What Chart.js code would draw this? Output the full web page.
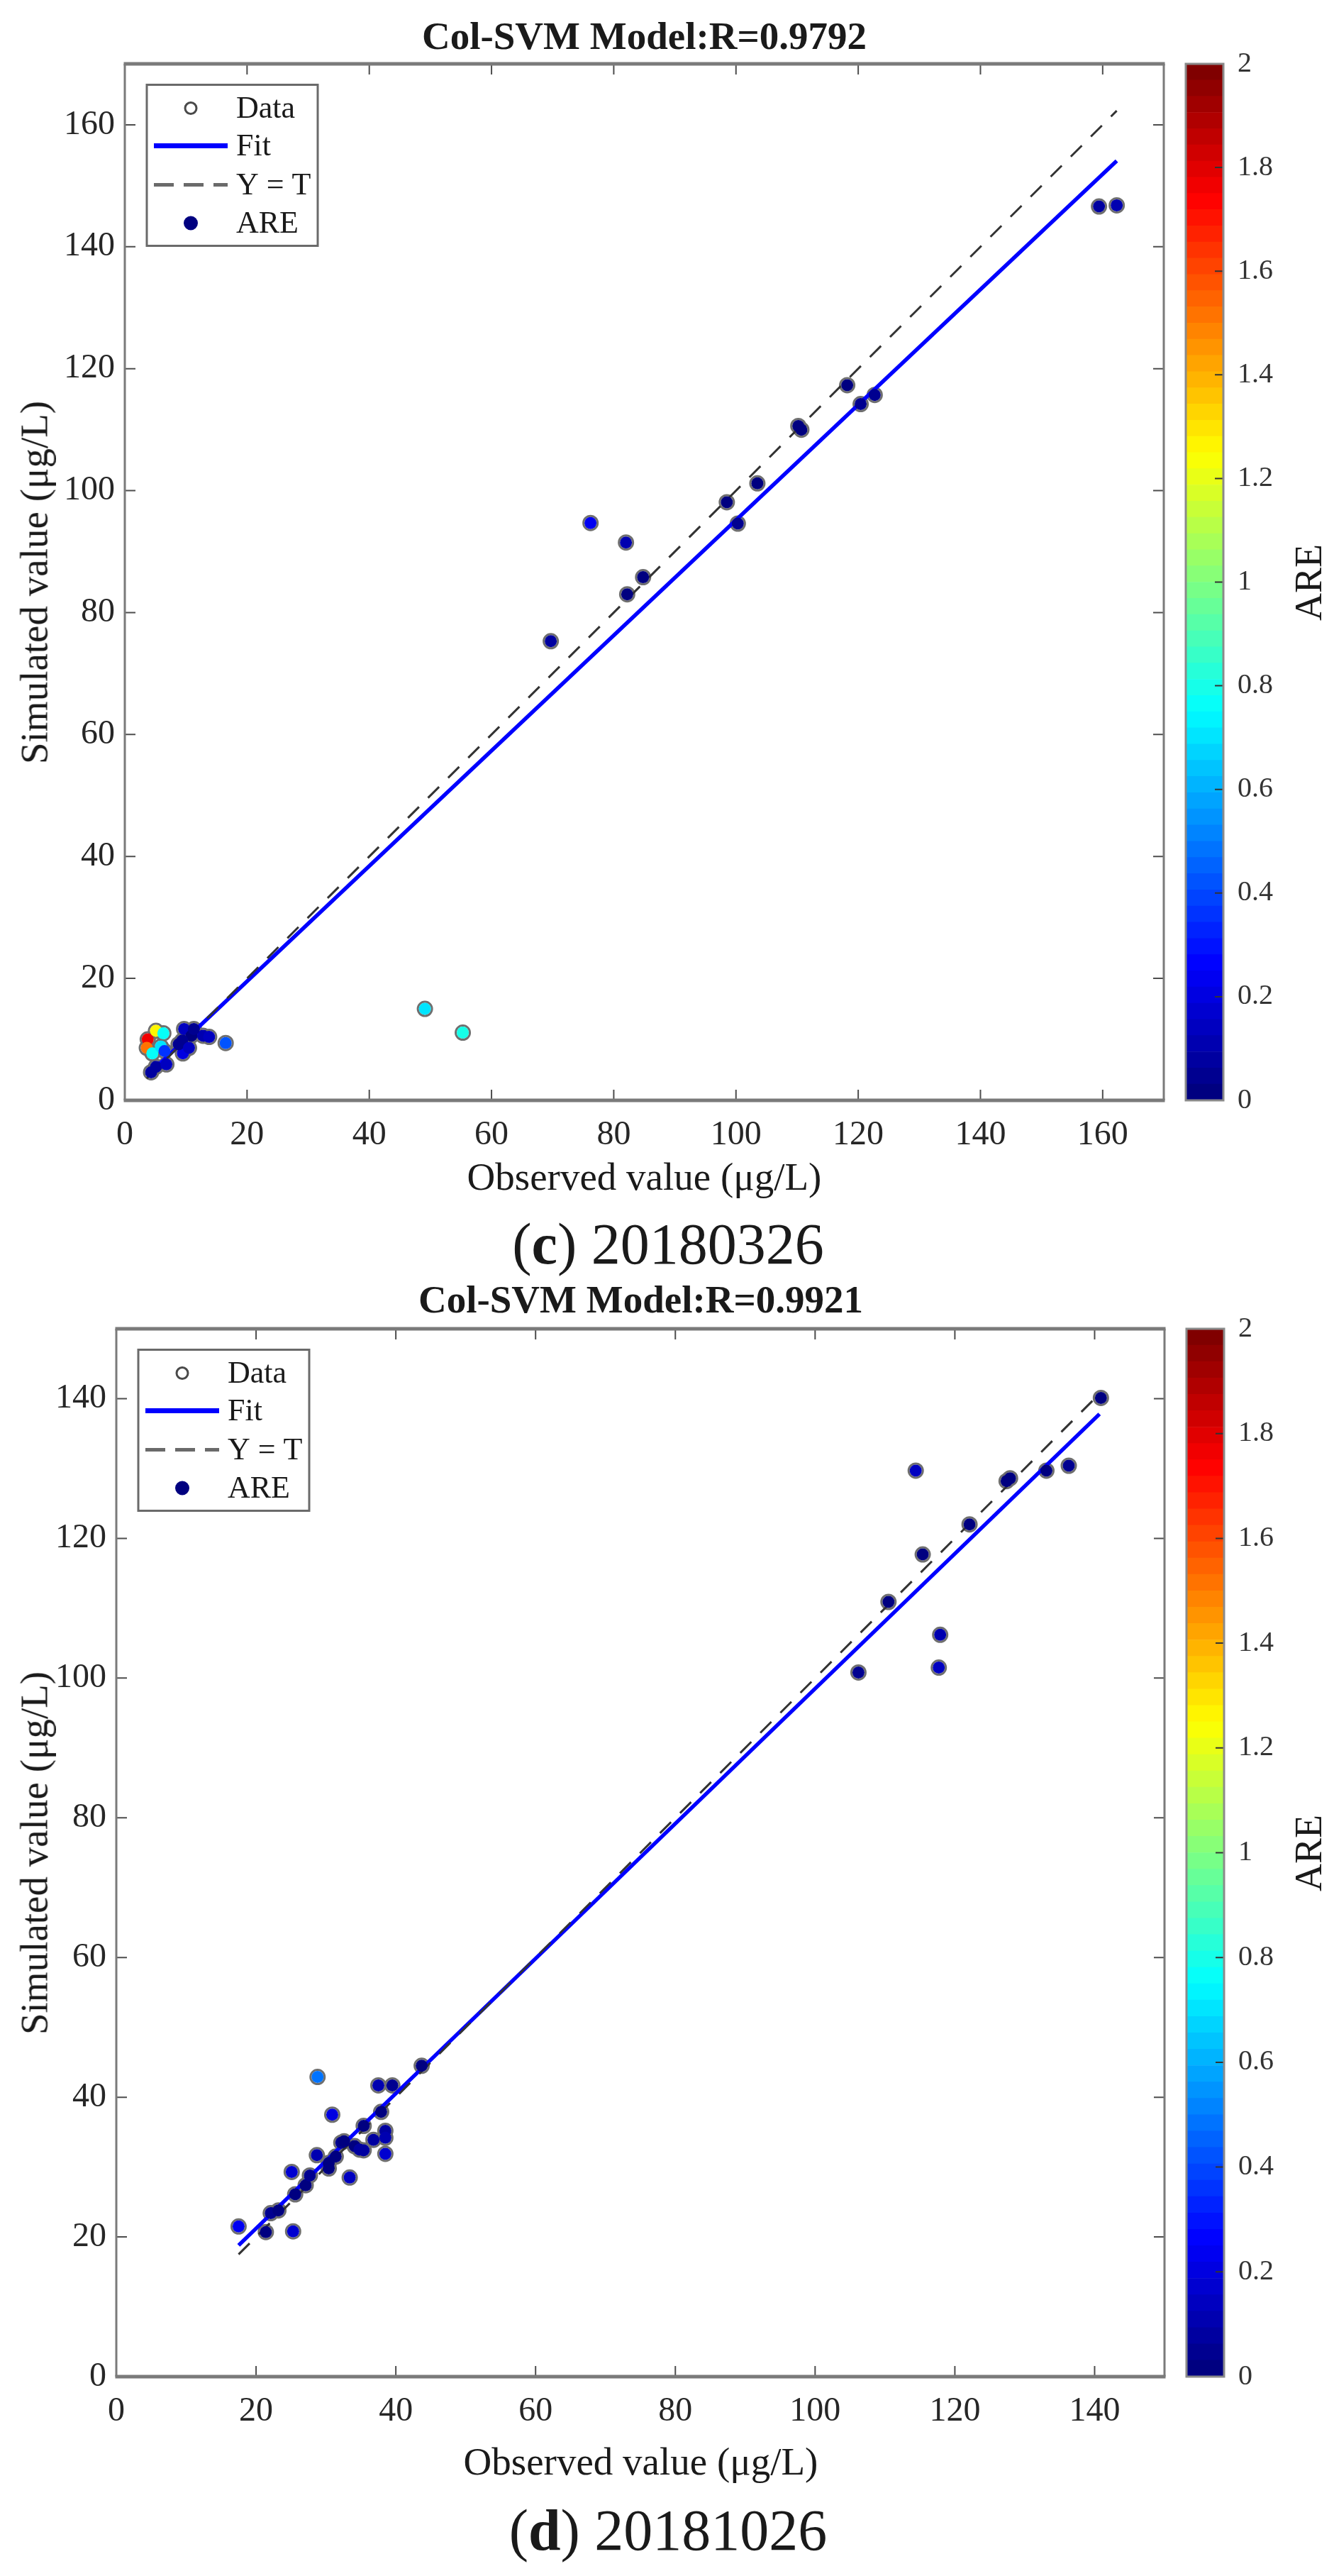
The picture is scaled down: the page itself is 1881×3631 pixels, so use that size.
<!DOCTYPE html>
<html>
<head>
<meta charset="utf-8">
<script src="https://cdn.jsdelivr.net/npm/chart.js@4.4.0/dist/chart.umd.min.js"></script>
<style>
html,body{margin:0;padding:0;background:#ffffff;}
body{width:1881px;height:3631px;position:relative;overflow:hidden;font-family:"Liberation Serif","Times New Roman",serif;}
canvas{position:absolute;}
.t{position:absolute;white-space:nowrap;line-height:1;color:#1a1a1a;}
</style>
</head>
<body>
<script>
// ---------------- DATA ----------------
// Panel (c) 20180326
const titleC = 'Col-SVM Model:R=0.9792';
const captionC = ['c', ' 20180326'];
const xTicksC = [0, 20, 40, 60, 80, 100, 120, 140, 160];
const yTicksC = [0, 20, 40, 60, 80, 100, 120, 140, 160];
const obsC = [3.75, 3.6, 5.1, 6.3, 4.5, 5.9, 6.5, 5.1, 6.8, 4.3, 9.7, 10.9, 9.4, 12.8, 13.8, 9.5, 8.8, 11.3, 10.5, 16.5,
              49.1, 55.3, 69.7, 76.2, 82.0, 82.2, 84.8, 98.5, 100.3, 103.5, 110.2, 110.7, 118.2, 120.4, 122.7, 159.4, 162.3];
const simC = [10.0, 8.6, 11.4, 11.0, 7.7, 8.8, 8.1, 5.5, 5.9, 4.6, 11.7, 10.6, 9.8, 10.6, 10.4, 7.7, 9.2, 11.7, 8.6, 9.4,
              15.0, 11.1, 75.3, 94.7, 91.5, 83.0, 85.8, 98.1, 94.6, 101.2, 110.6, 110.0, 117.3, 114.2, 115.7, 146.6, 146.8];
const areC = [1.75, 1.5, 1.25, 0.75, 0.75, 0.7, 0.35, 0.08, 0.13, 0.07, 0.15, 0.03, 0.04, 0.12, 0.15, 0.19, 0.04, 0.04, 0.15, 0.43,
              0.69, 0.80, 0.08, 0.24, 0.12, 0.01, 0.01, 0.004, 0.06, 0.02, 0.004, 0.006, 0.01, 0.05, 0.06, 0.08, 0.095];
const fitXC = [3.6, 162.3];
const fitYC = [4.0, 154.1];
const refXC = [3.6, 162.3];

// Panel (d) 20181026
const titleD = 'Col-SVM Model:R=0.9921';
const captionD = ['d', ' 20181026'];
const xTicksD = [0, 20, 40, 60, 80, 100, 120, 140];
const yTicksD = [0, 20, 40, 60, 80, 100, 120, 140];
const obsD = [17.5, 21.4, 22.1, 23.2, 25.3, 25.1, 25.6, 27.1, 27.7, 28.7, 28.8, 30.4, 30.4, 30.9, 31.4, 32.2, 32.6, 33.4, 34.1, 34.8,
              35.4, 35.4, 36.8, 37.5, 37.9, 38.5, 38.5, 38.5, 39.5, 43.7, 106.2, 110.5, 114.4, 115.4, 117.7, 117.9, 122.1, 127.4, 127.9, 133.1,
              136.3, 140.9];
const simD = [21.5, 20.7, 23.4, 23.8, 20.8, 29.3, 26.1, 27.4, 28.8, 31.7, 42.9, 29.8, 30.6, 37.5, 31.5, 33.5, 33.7, 28.5, 33.0, 32.5,
              35.9, 32.4, 33.9, 41.7, 37.9, 35.2, 34.2, 31.9, 41.7, 44.5, 100.8, 110.9, 129.7, 117.7, 101.5, 106.2, 122.0, 128.2, 128.6, 129.7,
              130.4, 140.1];
const areD = [0.23, 0.03, 0.06, 0.03, 0.18, 0.17, 0.02, 0.01, 0.04, 0.10, 0.49, 0.02, 0.01, 0.21, 0.00, 0.04, 0.03, 0.15, 0.03, 0.07,
              0.01, 0.08, 0.08, 0.11, 0.00, 0.09, 0.11, 0.17, 0.06, 0.02, 0.05, 0.00, 0.13, 0.02, 0.14, 0.10, 0.00, 0.01, 0.01, 0.03,
              0.04, 0.01];
const fitXD = [17.5, 140.7];
const fitYD = [18.8, 137.8];
const refXD = [17.5, 140.9];

// Shared
const legendLabels = ['Data', 'Fit', 'Y = T', 'ARE'];
const cbTicks = [0, 0.2, 0.4, 0.6, 0.8, 1, 1.2, 1.4, 1.6, 1.8, 2];
const cbLabel = 'ARE';
const xTitle = 'Observed value (\u03bcg/L)';
const yTitle = 'Simulated value (\u03bcg/L)';

// ---------------- STYLE / LAYOUT ----------------
const FONT = '"Liberation Serif", "Times New Roman", serif';
const CB_LEVELS = 64;
const CB_MAX = 2;

function jet(t) {
  const c = v => Math.max(0, Math.min(1, v));
  const r = c(1.5 - Math.abs(4 * t - 3));
  const g = c(1.5 - Math.abs(4 * t - 2));
  const b = c(1.5 - Math.abs(4 * t - 1));
  return `rgb(${Math.round(r * 255)},${Math.round(g * 255)},${Math.round(b * 255)})`;
}
function areColor(v) {
  const idx = Math.min(CB_LEVELS - 1, Math.max(0, Math.floor(v / CB_MAX * CB_LEVELS)));
  return jet(idx / (CB_LEVELS - 1));
}

function addText(txt, opts) {
  const d = document.createElement('div');
  d.className = 't';
  d.style.fontSize = opts.size + 'px';
  if (opts.bold) d.style.fontWeight = 'bold';
  if (opts.html) d.innerHTML = txt; else d.textContent = txt;
  d.style.left = opts.cx + 'px';
  if (opts.rotate) {
    d.style.top = opts.cy + 'px';
    d.style.transform = 'translate(-50%,-50%) rotate(-90deg)';
  } else {
    d.style.top = (opts.baseline - 0.8375 * opts.size) + 'px';
    d.style.transform = 'translateX(-50%)';
  }
  document.body.appendChild(d);
  return d;
}

function makeCanvas(left, top, w, h) {
  const c = document.createElement('canvas');
  c.width = w; c.height = h;
  c.style.left = left + 'px'; c.style.top = top + 'px';
  c.style.width = w + 'px'; c.style.height = h + 'px';
  document.body.appendChild(c);
  return c;
}

const boxPlugin = {
  id: 'mlBox',
  afterDatasetsDraw(chart) {
    const ctx = chart.ctx, a = chart.chartArea, x = chart.scales.x, y = chart.scales.y;
    ctx.save();
    ctx.strokeStyle = '#4d4d4d';
    ctx.lineWidth = 2;
    const tl = 15;
    ctx.beginPath();
    x.ticks.forEach(t => {
      const p = x.getPixelForValue(t.value);
      ctx.moveTo(p, a.bottom); ctx.lineTo(p, a.bottom - tl);
      ctx.moveTo(p, a.top); ctx.lineTo(p, a.top + tl);
    });
    y.ticks.forEach(t => {
      const p = y.getPixelForValue(t.value);
      ctx.moveTo(a.left, p); ctx.lineTo(a.left + tl, p);
      ctx.moveTo(a.right, p); ctx.lineTo(a.right - tl, p);
    });
    ctx.stroke();
    ctx.strokeStyle = '#7a7a7a';
    ctx.lineWidth = 5;
    ctx.beginPath();
    ctx.moveTo(a.left - 1.5, a.top); ctx.lineTo(a.right + 1.5, a.top);
    ctx.moveTo(a.left - 1.5, a.bottom); ctx.lineTo(a.right + 1.5, a.bottom);
    ctx.stroke();
    ctx.lineWidth = 3;
    ctx.beginPath();
    ctx.moveTo(a.left, a.top); ctx.lineTo(a.left, a.bottom);
    ctx.moveTo(a.right, a.top); ctx.lineTo(a.right, a.bottom);
    ctx.stroke();
    ctx.restore();
  }
};

const legendPlugin = {
  id: 'mlLegend',
  afterDraw(chart) {
    const ctx = chart.ctx, a = chart.chartArea;
    const L = a.left + 31, T = a.top + 29.5, W = 241, H = 227;
    ctx.save();
    ctx.fillStyle = '#ffffff';
    ctx.fillRect(L, T, W, H);
    ctx.strokeStyle = '#6a6a6a';
    ctx.lineWidth = 3;
    ctx.strokeRect(L, T, W, H);
    const rows = [T + 33, T + 86, T + 141, T + 195];
    const sx = a.left + 93, lx0 = a.left + 41, lx1 = a.left + 145, tx = a.left + 157;
    // Data
    ctx.beginPath(); ctx.arc(sx, rows[0], 8, 0, Math.PI * 2);
    ctx.strokeStyle = '#4a4a4a'; ctx.lineWidth = 3; ctx.stroke();
    // Fit
    ctx.beginPath(); ctx.moveTo(lx0, rows[1]); ctx.lineTo(lx1, rows[1]);
    ctx.strokeStyle = '#0000ff'; ctx.lineWidth = 7; ctx.stroke();
    // Y = T
    ctx.beginPath(); ctx.setLineDash([28, 14]); ctx.moveTo(lx0, rows[2]); ctx.lineTo(lx1, rows[2]);
    ctx.strokeStyle = '#6a6a6a'; ctx.lineWidth = 5; ctx.stroke(); ctx.setLineDash([]);
    // ARE
    ctx.beginPath(); ctx.arc(sx, rows[3], 10, 0, Math.PI * 2);
    ctx.fillStyle = areColor(0); ctx.fill();
    ctx.fillStyle = '#1a1a1a';
    ctx.font = '44px ' + FONT;
    ctx.textBaseline = 'middle';
    ctx.textAlign = 'left';
    legendLabels.forEach((s, i) => ctx.fillText(s, tx, rows[i] + 2));
    ctx.restore();
  }
};

const cbPlugin = {
  id: 'mlCbar',
  afterDraw(chart) {
    const ctx = chart.ctx, a = chart.chartArea, y = chart.scales.y;
    ctx.save();
    ctx.strokeStyle = '#333333';
    ctx.lineWidth = 2;
    ctx.beginPath();
    y.ticks.forEach(t => {
      const p = y.getPixelForValue(t.value);
      ctx.moveTo(a.right, p); ctx.lineTo(a.right - 12, p);
    });
    ctx.stroke();
    ctx.strokeStyle = '#8a8a8a';
    ctx.lineWidth = 3;
    ctx.strokeRect(a.left, a.top, a.right - a.left, a.bottom - a.top);
    ctx.restore();
  }
};

function buildPanel(p) {
  // main scatter chart
  const cv = makeCanvas(p.canvas.left, p.canvas.top, p.canvas.w, p.canvas.h);
  const pts = p.obs.map((v, i) => ({ x: v, y: p.sim[i] }));
  const cols = p.are.map(areColor);
  const fitPts = p.fitX.map((v, i) => ({ x: v, y: p.fitY[i] }));
  const refPts = p.refX.map(v => ({ x: v, y: v }));
  const tickFont = { family: FONT, size: 48 };
  new Chart(cv.getContext('2d'), {
    type: 'scatter',
    data: {
      datasets: [
        { label: 'ARE', data: pts, pointRadius: 8.5, pointHoverRadius: 8.5, pointBackgroundColor: cols, pointBorderWidth: 0, order: 0 },
        { type: 'line', label: 'Y = T', data: refPts, showLine: true, borderColor: '#333333', borderWidth: 3, borderDash: [22, 18], pointRadius: 0, fill: false, order: 1 },
        { type: 'line', label: 'Fit', data: fitPts, showLine: true, borderColor: '#0000ff', borderWidth: 5.5, pointRadius: 0, fill: false, order: 2 },
        { label: 'Data', data: pts, pointRadius: 10, pointHoverRadius: 10, pointBackgroundColor: 'rgba(0,0,0,0)', pointBorderColor: '#6f6f6f', pointBorderWidth: 3, order: 3 }
      ]
    },
    options: {
      responsive: false, animation: false, devicePixelRatio: 1,
      events: [],
      layout: { padding: { left: 0, top: p.plot.top - p.canvas.top, right: p.canvas.left + p.canvas.w - p.plot.right, bottom: 0 } },
      plugins: { legend: { display: false }, tooltip: { enabled: false }, title: { display: false } },
      scales: {
        x: {
          type: 'linear', min: 0, max: p.max,
          afterBuildTicks: s => { s.ticks = p.xTicks.map(v => ({ value: v })); },
          afterFit: s => { s.height = p.canvas.top + p.canvas.h - p.plot.bottom; },
          grid: { display: false, drawTicks: false },
          border: { display: false },
          ticks: { font: tickFont, color: '#262626', padding: 21, maxRotation: 0, minRotation: 0, autoSkip: false }
        },
        y: {
          type: 'linear', min: 0, max: p.max,
          afterBuildTicks: s => { s.ticks = p.yTicks.map(v => ({ value: v })); },
          afterFit: s => { s.width = p.plot.left - p.canvas.left; },
          grid: { display: false, drawTicks: false },
          border: { display: false },
          ticks: { font: tickFont, color: '#262626', padding: 14, autoSkip: false }
        }
      }
    },
    plugins: [boxPlugin, legendPlugin]
  });

  // colorbar chart
  const cbc = p.cbar;
  const cbv = makeCanvas(cbc.canvasLeft, p.canvas.top, 1881 - cbc.canvasLeft, p.canvas.h);
  const dsets = [];
  for (let i = 0; i < CB_LEVELS; i++) {
    dsets.push({ data: [CB_MAX / CB_LEVELS], backgroundColor: jet(i / (CB_LEVELS - 1)), borderWidth: 0, barPercentage: 1, categoryPercentage: 1 });
  }
  new Chart(cbv.getContext('2d'), {
    type: 'bar',
    data: { labels: [''], datasets: dsets },
    options: {
      responsive: false, animation: false, devicePixelRatio: 1,
      events: [],
      layout: { padding: { left: cbc.left - cbc.canvasLeft, top: p.plot.top - p.canvas.top, right: 0, bottom: p.canvas.top + p.canvas.h - p.plot.bottom } },
      plugins: { legend: { display: false }, tooltip: { enabled: false } },
      scales: {
        x: { stacked: true, display: false },
        y: {
          stacked: true, position: 'right', min: 0, max: CB_MAX,
          afterBuildTicks: s => { s.ticks = cbTicks.map(v => ({ value: v })); },
          afterFit: s => { s.width = 1881 - cbc.right; },
          grid: { display: false, drawTicks: false },
          border: { display: false },
          ticks: { font: { family: FONT, size: 40 }, color: '#333333', padding: 20, autoSkip: false,
                   callback: v => String(Math.round(v * 10) / 10) }
        }
      }
    },
    plugins: [cbPlugin]
  });

  // texts
  const pcx = (p.plot.left + p.plot.right) / 2;
  const pcy = (p.plot.top + p.plot.bottom) / 2;
  addText(p.title, { size: 55, bold: true, cx: pcx, baseline: p.titleBase });
  addText(xTitle, { size: 55, cx: pcx, baseline: p.xTitleBase });
  addText(yTitle, { size: 55, cx: 48, cy: pcy, rotate: true });
  addText(cbLabel, { size: 54, cx: 1845, cy: pcy, rotate: true });
  addText('(<b>' + p.caption[0] + '</b>)' + p.caption[1], { size: 82, html: true, cx: 942, baseline: p.capBase });
}

buildPanel({
  title: titleC, caption: captionC, max: 170,
  obs: obsC, sim: simC, are: areC, fitX: fitXC, fitY: fitYC, refX: refXC,
  xTicks: xTicksC, yTicks: yTicksC,
  plot: { left: 176, right: 1641, top: 90, bottom: 1551 },
  canvas: { left: 0, top: 0, w: 1655, h: 1700 },
  cbar: { canvasLeft: 1650, left: 1672, right: 1725 },
  titleBase: 69, xTitleBase: 1677, capBase: 1782
});
buildPanel({
  title: titleD, caption: captionD, max: 150,
  obs: obsD, sim: simD, are: areD, fitX: fitXD, fitY: fitYD, refX: refXD,
  xTicks: xTicksD, yTicks: yTicksD,
  plot: { left: 164, right: 1643, top: 1873, bottom: 3350 },
  canvas: { left: 0, top: 1790, w: 1655, h: 1700 },
  cbar: { canvasLeft: 1650, left: 1673, right: 1726 },
  titleBase: 1850, xTitleBase: 3488, capBase: 3595
});
</script>
</body>
</html>
